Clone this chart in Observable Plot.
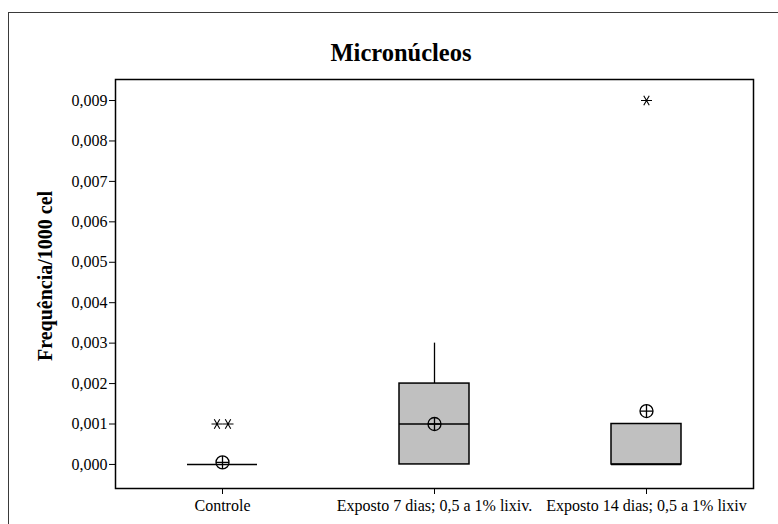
<!DOCTYPE html>
<html>
<head>
<meta charset="utf-8">
<script src="https://cdn.jsdelivr.net/npm/d3@7"></script>
<script src="https://cdn.jsdelivr.net/npm/@observablehq/plot@0.6"></script>
<style>
  html, body { margin: 0; padding: 0; background: #fff; }
  #page { position: relative; width: 778px; height: 524px; overflow: hidden; background: #fff; }
  #outer { position: absolute; left: 8px; top: 12px; width: 820px; height: 600px; border: 1.5px solid #3a3a3a; box-sizing: border-box; }
  #title { position: absolute; top: 39px; left: 251px; width: 300px; text-align: center;
           font-family: "Liberation Serif", serif; font-weight: bold; font-size: 24.5px; color: #000; }
  #chart { position: absolute; left: 0; top: 0; }
  #chart svg { font-family: "Liberation Serif", serif; }
</style>
</head>
<body>
<div id="page">
  <div id="outer"></div>
  <div id="title">Micronúcleos</div>
  <div id="chart"></div>
</div>
<script>
// ---- data ----
const categories = ["Controle", "Exposto 7 dias; 0,5 a 1% lixiv.", "Exposto 14 dias; 0,5 a 1% lixiv"];
const q1Values = [0, 0, 0];
const medianValues = [0, 0.001, 0];
const q3Values = [0, 0.002, 0.001];
const whiskerHighValues = [0, 0.003, 0.001];
const meanValues = [0.00005, 0.001, 0.00132];
const outlierCategories = ["Controle", "Controle", "Exposto 14 dias; 0,5 a 1% lixiv"];
const outlierValues = [0.001, 0.001, 0.009];
const yTickValues = [0, 0.001, 0.002, 0.003, 0.004, 0.005, 0.006, 0.007, 0.008, 0.009];
const yLabel = "Frequência/1000 cel";

// ---- tables ----
const boxes = categories.map((c, i) => ({
  cat: c, q1: q1Values[i], med: medianValues[i], q3: q3Values[i], hi: whiskerHighValues[i], mean: meanValues[i]
}));
// side-by-side placement of tied outliers (as in Minitab)
const outliers = outlierCategories.map((c, i) => ({cat: c, v: outlierValues[i]}));
const groups = d3.group(outliers, d => d.cat + "|" + d.v);
for (const g of groups.values()) g.forEach((d, i) => d.rank = i - (g.length - 1) / 2);
const ranks = [...new Set(outliers.map(d => d.rank))];

// Minitab-style asterisk: horizontal bar plus two diagonals
const minitabAsterisk = {
  draw(context, size) {
    const r = Math.sqrt(size / Math.PI);
    for (const a of [0, Math.PI / 3, 2 * Math.PI / 3]) {
      const dx = r * Math.cos(a), dy = r * Math.sin(a);
      context.moveTo(-dx, -dy);
      context.lineTo(dx, dy);
    }
  }
};

const boxInset = 71;

const chart = Plot.plot({
  width: 778,
  height: 524,
  marginLeft: 115,
  marginRight: 25,
  marginTop: 79,
  marginBottom: 36,
  style: {fontFamily: "Liberation Serif, serif", fontSize: "16px", color: "#000", background: "transparent"},
  x: {type: "band", domain: categories, padding: 0},
  y: {domain: [-0.000595, 0.00952]},
  marks: [
    Plot.frame({stroke: "#000", strokeWidth: 1.5}),
    Plot.ruleX(boxes, {x: "cat", y1: "q3", y2: "hi", stroke: "#000", strokeWidth: 1.3}),
    Plot.barY(boxes, {x: "cat", y1: "q1", y2: "q3", fill: "#c0c0c0", stroke: "#000", strokeWidth: 1.5, insetLeft: boxInset, insetRight: boxInset}),
    Plot.tickY(boxes, {x: "cat", y: "med", stroke: "#000", strokeWidth: 1.5, insetLeft: boxInset, insetRight: boxInset}),
    Plot.dot(boxes, {x: "cat", y: "mean", r: 6.5, stroke: "#000", strokeWidth: 1.3, fill: "none"}),
    Plot.dot(boxes, {x: "cat", y: "mean", symbol: "plus", r: 4.26, stroke: "#000", strokeWidth: 1.3}),
    ...ranks.map(r => Plot.dot(outliers.filter(d => d.rank === r), {x: "cat", y: "v", symbol: minitabAsterisk, r: 5.5, stroke: "#000", strokeWidth: 1.1, dx: r * 11})),
    Plot.axisY({ticks: yTickValues, tickFormat: d => d.toFixed(3).replace(".", ","), tickSize: 6, tickPadding: 2,
      label: null, fontSize: 16}),
    Plot.text([yLabel], {frameAnchor: "left", text: d => d, rotate: -90, dx: -70, dy: -8,
      textAnchor: "middle", lineAnchor: "middle", fontSize: 20, fontWeight: "bold", fill: "#000"}),
    Plot.axisX({tickSize: 6, tickPadding: 5, label: null, fontSize: 16})
  ]
});
document.getElementById("chart").appendChild(chart);
</script>
</body>
</html>
